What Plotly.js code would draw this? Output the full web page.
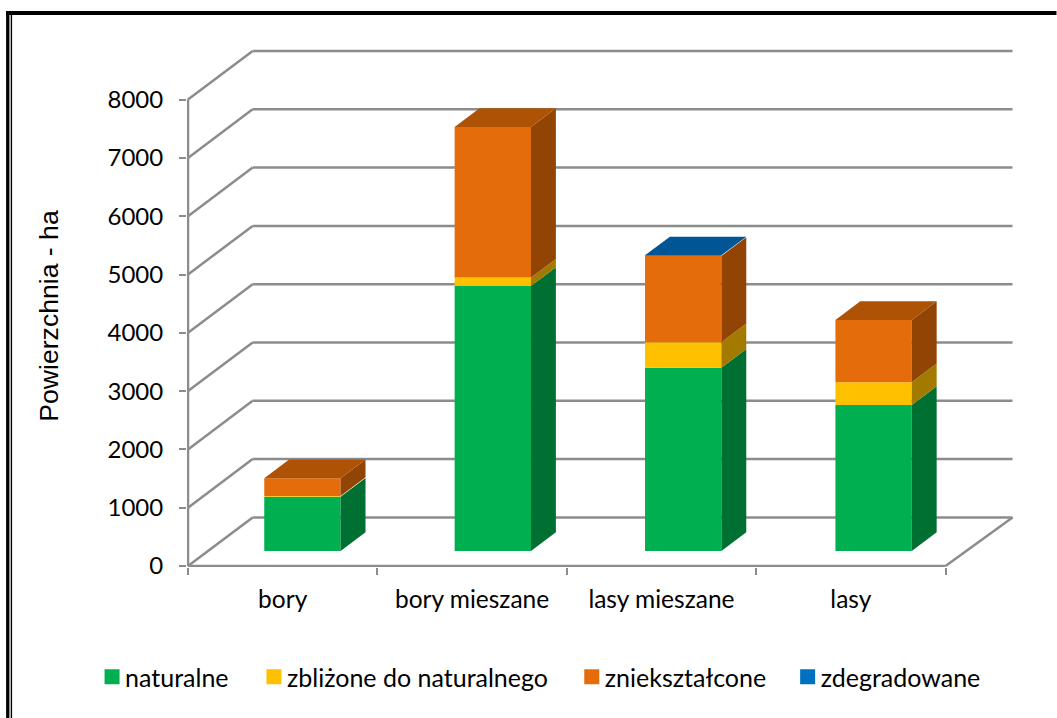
<!DOCTYPE html>
<html><head><meta charset="utf-8">
<script src="https://cdn.plot.ly/plotly-3.0.1.min.js"></script>
<style>html,body{margin:0;padding:0;background:#fff}#c{width:1057px;height:718px}
.legendtext,.legend2text,.legend3text,.legend4text{transform:translateX(-7px)}</style>
</head><body><div id="c"></div>
<script>
const categories = ['bory','bory mieszane','lasy mieszane','lasy'];
const naturalne = [931,4545,3144,2504];
const zblizone = [12,143,436,390];
const znieksztalcone = [304,2585,1480,1068];
const zdegradowane = [0,0,10,0];
const seriesNames = ['naturalne','zbliżone do naturalnego','zniekształcone','zdegradowane'];
const seriesValues = [naturalne,zblizone,znieksztalcone,zdegradowane];
const frontColors = ['#00B050','#FFC000','#E46C0A','#0070C0'];
const sideColors = ['#006F32','#A37A00','#924405','#004A80'];
const topColors = ['#007A38','#B38600','#AE5206','#005594'];
const yTicks = [0,1000,2000,3000,4000,5000,6000,7000,8000];
const legendX = [103,265,583,799];

// page geometry (pixels)
const W=1057,H=718,X0=188,Y0=566,catPx=189.5,kPx=58.3;
const plotL=187,plotR=1014.5,plotT=49,plotB=567;
const depthDX=64.7/catPx, depthDY=48.6/kPx*1000; // oblique offset of the back wall, in axis units
const backRight=(1013-X0)/catPx;
const barD0=0.31, barD1=0.695, barW=76.4/catPx;
const barFirst=(302.5-X0)/catPx, barStep=190.5/catPx;
const grey='#8C8C8C';

const traces=[];
const bases=categories.map(()=>barD0*depthDY);
const cum=categories.map(()=>0);
const xc=categories.map((_,i)=>barFirst+i*barStep);
seriesValues.forEach((vals,s)=>{
  traces.push({type:'bar',x:xc,y:vals,base:bases.map((b,i)=>b+cum[i]),width:barW,
    marker:{color:frontColors[s],line:{width:0}},showlegend:false,hoverinfo:'skip',name:seriesNames[s]});
  const sx=[],sy=[];
  vals.forEach((v,i)=>{
    if(v>0){
      const xr=xc[i]+barW/2, d=(barD1-barD0);
      const y0=barD0*depthDY+cum[i], y1=y0+v;
      sx.push(xr,xr+d*depthDX,xr+d*depthDX,xr,xr,null);
      sy.push(y0,y0+d*depthDY,y1+d*depthDY,y1,y0,null);
    }
    cum[i]+=v;
  });
  traces.push({type:'scatter',mode:'lines',x:sx,y:sy,fill:'toself',fillcolor:sideColors[s],
    line:{width:0},showlegend:false,hoverinfo:'skip'});
});
seriesValues.forEach((vals,s)=>{
  const tx=[],ty=[];
  categories.forEach((_,i)=>{
    let topS=0; seriesValues.forEach((sv,k)=>{if(sv[i]>0)topS=k;});
    if(topS===s){
      const xl=xc[i]-barW/2,xr=xc[i]+barW/2,d=barD1-barD0,y=barD0*depthDY+cum[i];
      tx.push(xl,xr,xr+d*depthDX,xl+d*depthDX,xl,null);
      ty.push(y,y,y+d*depthDY,y+d*depthDY,y,null);
    }
  });
  traces.push({type:'scatter',mode:'lines',x:tx,y:ty,fill:'toself',fillcolor:topColors[s],
    line:{width:0},showlegend:false,hoverinfo:'skip'});
});
// legend keys
const legends={};
seriesNames.forEach((n,s)=>{
  const id=s===0?'legend':'legend'+(s+1);
  traces.push({type:'scatter',mode:'markers',x:[null],y:[null],name:n,legend:id,showlegend:true,
    marker:{symbol:'square',size:15,color:frontColors[s]},hoverinfo:'skip'});
  legends[id]={x:(legendX[s]-11-plotL)/(plotR-plotL),xanchor:'left',y:(plotB-677)/(plotB-plotT),yanchor:'middle',
    orientation:'h',bgcolor:'rgba(0,0,0,0)',itemwidth:30,font:{family:'Lato',size:25,color:'#000'},
    itemclick:false,itemdoubleclick:false};
});
// walls, floor and frame
const shapes=[];
const ln=(x0,y0,x1,y1)=>shapes.push({type:'line',xref:'x',yref:'y',x0,y0,x1,y1,layer:'below',line:{color:grey,width:2.5}});
const xEnd=categories.length;
yTicks.forEach(v=>{
  ln(0,v,depthDX,v+depthDY);
  ln(depthDX,v+depthDY,backRight,v+depthDY);
});
ln(0,0,0,yTicks[yTicks.length-1]);
ln(0,0,xEnd,0);
ln(xEnd,0,backRight,depthDY);
const px=x=>(x-plotL)/(plotR-plotL), py=y=>(plotB-y)/(plotB-plotT);
const rect=(x0,y0,x1,y1)=>shapes.push({type:'rect',xref:'paper',yref:'paper',x0:px(x0),x1:px(x1),y0:py(y0),y1:py(y1),
  fillcolor:'#000',line:{width:0},layer:'above'});
rect(6,11,9.3,H);
rect(10.6,15,12,H);
rect(6,11,W,15);

const layout=Object.assign({
  width:W,height:H,margin:{l:plotL,r:W-plotR,t:plotT,b:H-plotB,pad:0},
  paper_bgcolor:'#fff',plot_bgcolor:'rgba(0,0,0,0)',barmode:'overlay',showlegend:true,
  xaxis:{type:'linear',range:[(plotL-X0)/catPx,(plotR-X0)/catPx],tickmode:'array',
    tickvals:categories.map((_,i)=>i+0.5),ticktext:categories,ticks:'',showgrid:false,zeroline:false,showline:false,
    ticklabelstandoff:15,tickfont:{family:'Lato',size:24.5,color:'#000'},
    minor:{tick0:0,dtick:1,ticks:'outside',ticklen:7,tickwidth:2,tickcolor:grey,showgrid:false}},
  yaxis:{range:[(Y0-plotB)/kPx*1000,(Y0-plotT)/kPx*1000],tickmode:'array',tickvals:yTicks,
    ticktext:yTicks.map(String),ticks:'outside',ticklen:7,tickwidth:2,tickcolor:grey,showgrid:false,zeroline:false,showline:false,
    ticklabelstandoff:11,tickfont:{family:'Lato',size:24,color:'#000'},
    title:{text:'Powierzchnia - ha',font:{family:'Liberation Sans',size:26.6,color:'#000'},standoff:44}},
  shapes
},legends);
Plotly.newPlot('c',traces,layout,{displayModeBar:false,staticPlot:true}).then(gd=>{
  // axis title position along the axis
  const yt=gd.querySelector('.ytitle');
  if(yt) yt.setAttribute('transform','translate(3,8) '+(yt.getAttribute('transform')||''));
});
</script></body></html>
